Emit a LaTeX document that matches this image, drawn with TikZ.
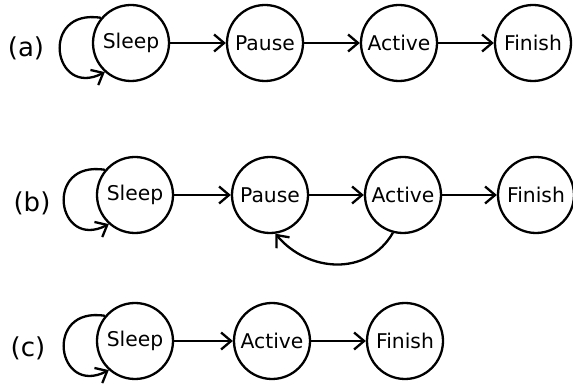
\documentclass[tikz,border=0pt]{standalone}
\usepackage{fontspec}
\setmainfont{DejaVu Sans}
\usepackage{tikz}
\usetikzlibrary{arrows.meta}
\tikzset{state/.style={circle, draw=black, line width=2.3pt, minimum size=76pt, inner sep=0pt, font=\fontsize{20.3}{23}\selectfont}}
\tikzset{arr/.style={line width=2.3pt, -{Straight Barb[length=10pt, width=17pt, line width=2.3pt]}}}
\tikzset{rowlabel/.style={inner sep=0pt, font=\fontsize{26}{29}\selectfont}}

\begin{document}
\begin{tikzpicture}[x=1pt, y=1pt]
\useasboundingbox (0,0) rectangle (573,388);
 % row (a)
 \node[rowlabel] (la) at (26, 340) {(a)};
 \node[state] (sleepA) at (131, 345) {Sleep};
 \node[state] (pauseA) at (265, 345) {Pause};
 \node[state] (activeA) at (399, 345) {Active};
 \node[state] (finishA) at (533, 345) {Finish};
 \draw[arr] (sleepA.140) .. controls +(-62, 10) and +(-52, -27) .. (sleepA.228);
 \draw[arr] (sleepA) -- (pauseA);
 \draw[arr] (pauseA) -- (activeA);
 \draw[arr] (activeA) -- (finishA);
 % row (b)
 \node[rowlabel] (lb) at (32, 185) {(b)};
 \node[state] (sleepB) at (135, 193) {Sleep};
 \node[state] (pauseB) at (270, 193) {Pause};
 \node[state] (activeB) at (403, 193) {Active};
 \node[state] (finishB) at (536, 193) {Finish};
 \draw[arr] (sleepB.140) .. controls +(-62, 10) and +(-52, -27) .. (sleepB.228);
 \draw[arr] (sleepB) -- (pauseB);
 \draw[arr] (pauseB) -- (activeB);
 \draw[arr] (activeB) -- (finishB);
 \draw[arr] (activeB.255) to[out=-120, in=-50, looseness=1.1] (pauseB.278);
 % row (c)
 \node[rowlabel] (lc) at (28, 40) {(c)};
 \node[state] (sleepC) at (135, 47) {Sleep};
 \node[state] (activeC) at (272, 47) {Active};
 \node[state] (finishC) at (405, 47) {Finish};
 \draw[arr] (sleepC.140) .. controls +(-62, 10) and +(-52, -27) .. (sleepC.228);
 \draw[arr] (sleepC) -- (activeC);
 \draw[arr] (activeC) -- (finishC);
\end{tikzpicture}
\end{document}
